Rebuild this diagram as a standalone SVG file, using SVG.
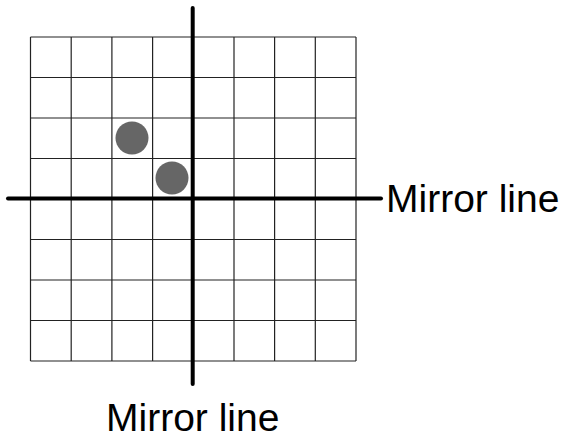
<svg xmlns="http://www.w3.org/2000/svg" width="564" height="439" viewBox="0 0 564 439">
<style>
.grid line{stroke:#222;stroke-width:1.2}
.axis{stroke:#000;stroke-width:4;stroke-linecap:round}
.dot{fill:#666}
.lbl{font-family:"Liberation Sans",Arial,sans-serif;font-size:39px;fill:#000}
</style>
<rect width="564" height="439" fill="#fff"/>
<g id="grid" class="grid">
<line x1="30.5" y1="37" x2="30.5" y2="361"/>
<line x1="71.2" y1="37" x2="71.2" y2="361"/>
<line x1="111.9" y1="37" x2="111.9" y2="361"/>
<line x1="152.6" y1="37" x2="152.6" y2="361"/>
<line x1="193.3" y1="37" x2="193.3" y2="361"/>
<line x1="234" y1="37" x2="234" y2="361"/>
<line x1="274.6" y1="37" x2="274.6" y2="361"/>
<line x1="315.3" y1="37" x2="315.3" y2="361"/>
<line x1="356" y1="37" x2="356" y2="361"/>
<line x1="30.5" y1="37" x2="356" y2="37"/>
<line x1="30.5" y1="77.5" x2="356" y2="77.5"/>
<line x1="30.5" y1="118" x2="356" y2="118"/>
<line x1="30.5" y1="158.5" x2="356" y2="158.5"/>
<line x1="30.5" y1="199" x2="356" y2="199"/>
<line x1="30.5" y1="239.5" x2="356" y2="239.5"/>
<line x1="30.5" y1="280" x2="356" y2="280"/>
<line x1="30.5" y1="320.5" x2="356" y2="320.5"/>
<line x1="30.5" y1="361" x2="356" y2="361"/>
</g>
<g id="dot1"><circle class="dot" cx="132" cy="138" r="16.5"/></g>
<g id="dot2"><circle class="dot" cx="172" cy="178" r="16.5"/></g>
<g id="connectors">
<line class="axis" x1="192.7" y1="8" x2="192.7" y2="384"/>
<line class="axis" x1="8" y1="198.5" x2="381" y2="198.5"/>
</g>
<g id="label-right"><text class="lbl" x="386" y="212">Mirror line</text></g>
<g id="label-bottom"><text class="lbl" x="106" y="431">Mirror line</text></g>
</svg>
